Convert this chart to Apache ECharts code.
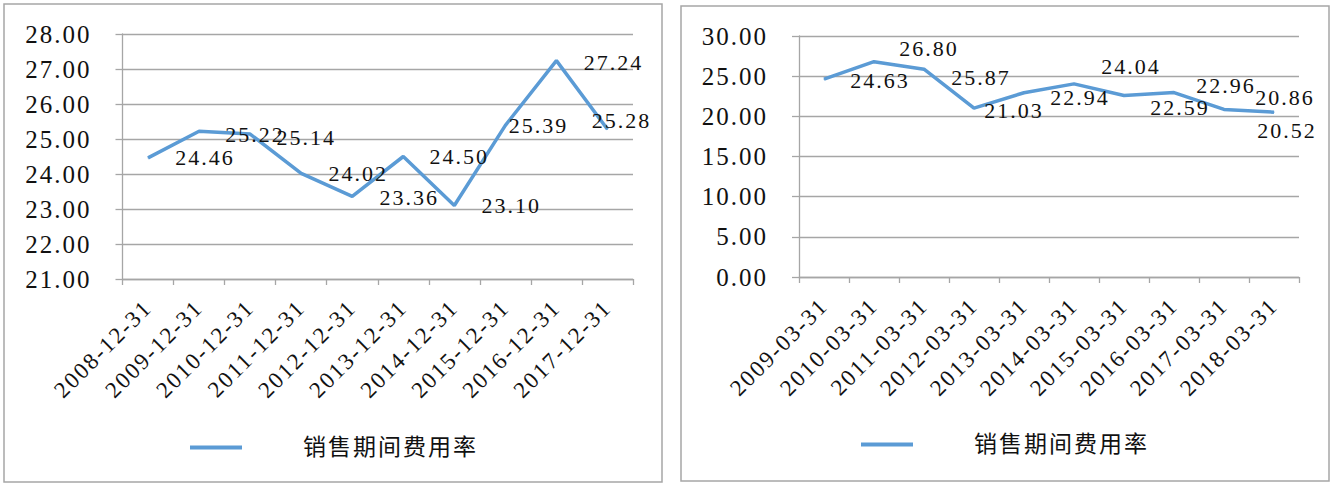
<!DOCTYPE html>
<html>
<head>
<meta charset="utf-8">
<script src="https://cdn.jsdelivr.net/npm/echarts@6/dist/echarts.min.js"></script>
<style>
  html, body { margin: 0; padding: 0; background: #ffffff; }
  #chart { width: 1336px; height: 483px; }
  #chart svg text { letter-spacing: 2px; }
</style>
</head>
<body>
<div id="chart"></div>
<script>
// ---- data ----
const seriesName = '销售期间费用率';
const leftCategories = ['2008-12-31', '2009-12-31', '2010-12-31', '2011-12-31', '2012-12-31',
  '2013-12-31', '2014-12-31', '2015-12-31', '2016-12-31', '2017-12-31'];
const leftValues = [24.46, 25.22, 25.14, 24.02, 23.36, 24.50, 23.10, 25.39, 27.24, 25.28];
const rightCategories = ['2009-03-31', '2010-03-31', '2011-03-31', '2012-03-31', '2013-03-31',
  '2014-03-31', '2015-03-31', '2016-03-31', '2017-03-31', '2018-03-31'];
const rightValues = [24.63, 26.80, 25.87, 21.03, 22.94, 24.04, 22.59, 22.96, 20.86, 20.52];
const leftYRange = [21, 28, 1];
const rightYRange = [0, 30, 5];

// ---- label placement (style only, pixel offsets from each point) ----
const leftLabelShift = [[57, 0], [56, 3], [56, 3], [57, 0], [57, 1], [56, 0], [57, 0], [33, 0], [57, 2], [14, -9]];
const rightLabelShift = [[56, 1], [55, -13], [57, 8], [40, 2], [56, 5], [57, -17], [56, 12], [52, -7], [61, -12], [13, 18]];

const numFont = 'Liberation Serif';
const lineColor = '#5B9BD5';
const gridColor = '#a6a6a6';

function xAxis(idx, cats) {
  return {
    type: 'category', gridIndex: idx, data: cats, boundaryGap: true,
    axisLine: { lineStyle: { color: gridColor, width: 1.3 } },
    axisTick: { show: true, length: 6, alignWithLabel: false, lineStyle: { color: gridColor, width: 1.3 } },
    axisLabel: { rotate: 45, margin: 25, interval: 0, color: '#111', fontFamily: numFont, fontSize: 23 }
  };
}
function yAxis(idx, r) {
  return {
    type: 'value', gridIndex: idx, min: r[0], max: r[1], interval: r[2],
    axisLine: { show: true, lineStyle: { color: gridColor, width: 1.3 } },
    axisTick: { show: true, length: 7, lineStyle: { color: gridColor, width: 1.3 } },
    splitLine: { show: true, lineStyle: { color: gridColor, width: 1.3 } },
    axisLabel: { margin: 31, color: '#111', fontFamily: numFont, fontSize: 25,
      formatter: v => v.toFixed(2) }
  };
}
function series(idx, values, shifts) {
  return {
    name: seriesName, type: 'line', xAxisIndex: idx, yAxisIndex: idx,
    data: values,
    color: lineColor,
    symbol: 'circle', symbolSize: 1, showSymbol: true,
    itemStyle: { color: lineColor },
    lineStyle: { color: lineColor, width: 3.5 },
    label: { show: true, position: 'inside', color: '#111', fontFamily: numFont, fontSize: 22,
      formatter: p => Number(p.value).toFixed(2) },
    labelLayout: p => ({ dx: shifts[p.dataIndex][0], dy: shifts[p.dataIndex][1], hideOverlap: false }),
    emphasis: { disabled: true },
    animation: false
  };
}
function legend(left, top) {
  return {
    left: left, top: top, padding: 0, data: [seriesName], icon: 'rect',
    itemWidth: 52, itemHeight: 4, selectedMode: false,
    itemStyle: { color: lineColor, opacity: 1 },
    textStyle: { fontFamily: numFont + ', Noto Sans CJK SC', fontSize: 23, color: '#111',
      padding: [0, 0, 0, 56] }
  };
}

const chart = echarts.init(document.getElementById('chart'), null, { renderer: 'svg' });
chart.setOption({
  backgroundColor: '#ffffff',
  animation: false,
  grid: [
    { left: 122.5, top: 34, width: 510.5, height: 245 },
    { left: 799, top: 36, width: 500, height: 241 }
  ],
  xAxis: [xAxis(0, leftCategories), xAxis(1, rightCategories)],
  yAxis: [yAxis(0, leftYRange), yAxis(1, rightYRange)],
  legend: [legend(190, 436), legend(861, 433)],
  series: [series(0, leftValues, leftLabelShift), series(1, rightValues, rightLabelShift)],
  graphic: [
    { type: 'rect', shape: { x: 4, y: 4, width: 658, height: 478 }, silent: true,
      style: { fill: 'none', stroke: gridColor, lineWidth: 1.5 } },
    { type: 'rect', shape: { x: 681, y: 6, width: 648, height: 475 }, silent: true,
      style: { fill: 'none', stroke: gridColor, lineWidth: 1.5 } }
  ]
});
</script>
</body>
</html>
